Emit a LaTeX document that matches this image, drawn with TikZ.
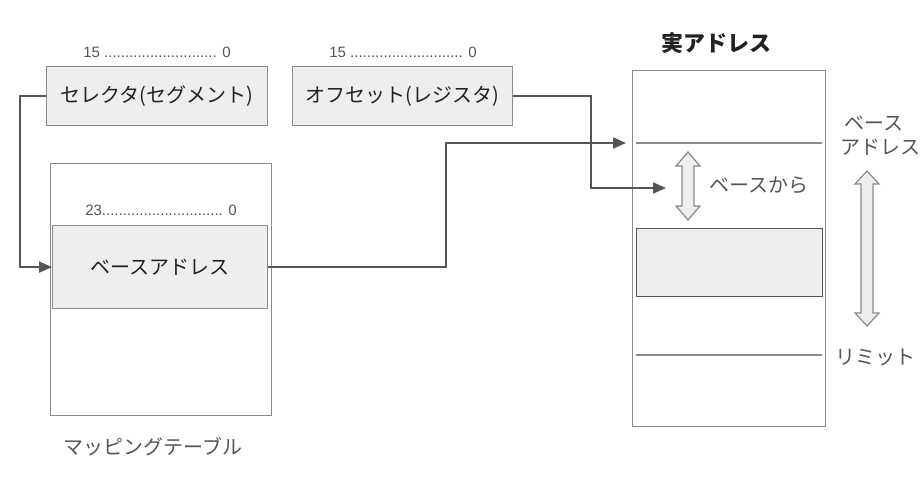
\documentclass[tikz,border=0pt]{standalone}
\usepackage{fontspec}
\setmainfont{Liberation Sans}
\newfontfamily\jp{Noto Sans CJK JP}
\usetikzlibrary{arrows.meta}
\definecolor{boxfill}{HTML}{EEEEEE}
\definecolor{boxline}{HTML}{8A8A8A}
\definecolor{darkline}{HTML}{555555}
\definecolor{txt}{HTML}{222222}
\definecolor{gtxt}{HTML}{555555}
\begin{document}
\begin{tikzpicture}[x=1pt,y=-1pt,
  regbox/.style={draw=boxline,line width=1.2pt,fill=boxfill,inner sep=0pt,font=\jp\fontsize{20}{22}\selectfont,text=txt},
  plainbox/.style={draw=boxline,line width=1.2pt,inner sep=0pt},
  bits/.style={font=\fontsize{15}{17}\selectfont,text=gtxt,inner sep=0pt},
  side/.style={font=\jp\fontsize{20}{24}\selectfont,text=gtxt,inner sep=0pt},
  conn/.style={draw=darkline,line width=1.8pt,-{Triangle[length=13pt,width=11pt]}},
  blockarrow/.style={draw=boxline,line width=1.2pt,fill=boxfill},
  divline/.style={draw=boxline,line width=1.2pt}]
\useasboundingbox (0,0) rectangle (922,478);

% selector & offset
\node[regbox,minimum width=221pt,minimum height=59pt,anchor=north west] (sel) at (46,66) {セレクタ(セグメント)};
\node[regbox,minimum width=220pt,minimum height=59pt,anchor=north west] (off) at (292,66) {オフセット(レジスタ)};
\node[bits] (selbits) at (157,52) {15 ........................... 0};
\node[bits] (offbits) at (403,52) {15 ........................... 0};

% mapping table
\node[plainbox,minimum width=221pt,minimum height=252pt,anchor=north west] (map) at (50,163) {};
\node[bits] (mapbits) at (161,210) {23............................. 0};
\node[regbox,minimum width=215pt,minimum height=83pt,anchor=north west] (base) at (52,225) {ベースアドレス};
\node[side] (maplabel) at (153,447) {マッピングテーブル};

% real address
\node[plainbox,minimum width=193pt,minimum height=356pt,anchor=north west] (real) at (632,70) {};
\node[font=\jp\bfseries\fontsize{22}{24}\selectfont,text=txt,inner sep=0pt] (realtitle) at (716,43) {実アドレス};
\coordinate (l1a) at (636,143);
\coordinate (l1b) at (822,143);
\draw[divline] (l1a) -- (l1b);
\node[draw=darkline,line width=1.2pt,fill=boxfill,minimum width=186pt,minimum height=68pt,anchor=north west,inner sep=0pt] (seg) at (636,228) {};
\coordinate (l2a) at (636,355);
\coordinate (l2b) at (822,355);
\draw[divline] (l2a) -- (l2b);

% block double arrows
\draw[blockarrow] (688,152) -- (700,166) -- (694,166) -- (694,206) -- (700,206) -- (688,220)
  -- (676,206) -- (682,206) -- (682,166) -- (676,166) -- cycle;
\draw[blockarrow] (867,171) -- (879,184) -- (873,184) -- (873,313) -- (879,313) -- (867,326)
  -- (855,313) -- (861,313) -- (861,184) -- (855,184) -- cycle;

\node[side,anchor=west] (fromb) at (709,185) {ベースから};
\node[side,anchor=west,align=left] (basead) at (840,136) {\ ベース\\アドレス};
\node[side,anchor=west] (limit) at (835,358) {リミット};

% connectors
\coordinate (tgt1) at (666,188);
\coordinate (tgt2) at (626,143);
\draw[conn] (sel.west) -- (20,96) |- (base.west);
\draw[conn] (off.east) -- (591,96) |- (tgt1);
\draw[conn] (base.east) -- (446,267) |- (tgt2);
\end{tikzpicture}
\end{document}
